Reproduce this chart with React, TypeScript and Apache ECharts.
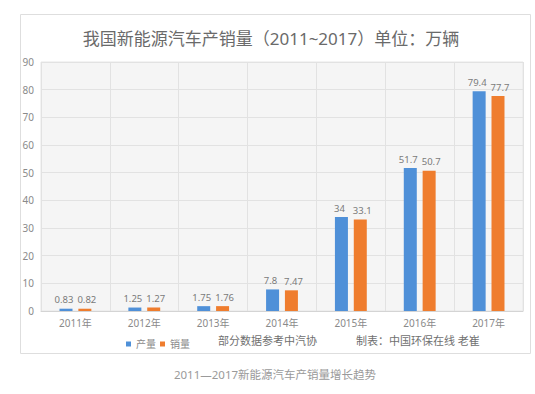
import React, { useEffect, useRef } from "react";
import * as echarts from "echarts";

const categories = ["2011年", "2012年", "2013年", "2014年", "2015年", "2016年", "2017年"];
const production = [0.83, 1.25, 1.75, 7.8, 34, 51.7, 79.4];
const sales = [0.82, 1.27, 1.76, 7.47, 33.1, 50.7, 77.7];
const seriesNames = ["产量", "销量"];
const titleText = "我国新能源汽车产销量（2011~2017）单位：万辆";
const sourceText = "部分数据参考中汽协";
const authorText = "制表：中国环保在线 老崔";
const captionText = "2011—2017新能源汽车产销量增长趋势";

const FONT = "'Noto Sans', 'Noto Sans CJK SC', sans-serif";

export default function App() {
  const ref = useRef<HTMLDivElement>(null);
  useEffect(() => {
    if (!ref.current) return;
    const chart = echarts.init(ref.current, undefined, { renderer: "svg" });
    const labelStyle = (dx: number) => ({
      show: true,
      position: "top" as const,
      distance: 4,
      offset: [dx, 0],
      color: "#7a7a7a",
      fontSize: 9.5,
      fontFamily: FONT,
    });
    chart.setOption({
      animation: false,
      backgroundColor: "#ffffff",
      textStyle: { fontFamily: FONT },
      grid: {
        left: 41,
        right: 12,
        top: 62,
        bottom: 83,
        show: true,
        backgroundColor: "#f5f5f5",
        borderColor: "#e6e6e6",
        borderWidth: 1,
      },
      legend: {
        data: seriesNames,
        left: 121,
        top: 334,
        icon: "rect",
        itemWidth: 5,
        itemHeight: 5,
        itemGap: 4,
        textStyle: { fontSize: 10, color: "#8a8a8a", fontFamily: FONT },
      },
      xAxis: {
        type: "category",
        data: categories,
        axisLine: { lineStyle: { color: "#d4d4d4" } },
        axisTick: { show: false },
        axisLabel: { color: "#8a8a8a", fontSize: 10, margin: 7, fontFamily: FONT },
        splitLine: { show: true, lineStyle: { color: "#e2e2e2" } },
      },
      yAxis: {
        type: "value",
        min: 0,
        max: 90,
        interval: 10,
        axisLine: { show: false },
        axisTick: { show: false },
        axisLabel: { color: "#8a8a8a", fontSize: 10, margin: 7, fontFamily: FONT },
        splitLine: { lineStyle: { color: "#e2e2e2" } },
      },
      series: [
        {
          name: seriesNames[0],
          type: "bar",
          data: production,
          barWidth: 13,
          barGap: "45%",
          itemStyle: { color: "#4f90d8" },
          label: labelStyle(-2),
        },
        {
          name: seriesNames[1],
          type: "bar",
          data: sales,
          barWidth: 13,
          itemStyle: { color: "#ef7d2e" },
          label: labelStyle(2),
        },
      ],
      graphic: [
        {
          type: "rect",
          shape: { x: 20.5, y: 14.5, width: 510, height: 339 },
          style: { fill: "none", stroke: "#dedede", lineWidth: 1 },
          silent: true,
        },
        {
          type: "text",
          x: 271,
          y: 38,
          style: {
            text: titleText,
            fill: "#6a6a6a",
            fontSize: 17,
            fontFamily: FONT,
            textAlign: "center",
            textVerticalAlign: "middle",
          },
        },
        {
          type: "text",
          x: 218,
          y: 340,
          style: {
            text: sourceText,
            fill: "#707070",
            fontSize: 11,
            fontFamily: FONT,
            textAlign: "left",
            textVerticalAlign: "middle",
          },
        },
        {
          type: "text",
          x: 356,
          y: 340,
          style: {
            text: authorText,
            fill: "#707070",
            fontSize: 11,
            fontFamily: FONT,
            textAlign: "left",
            textVerticalAlign: "middle",
          },
        },
        {
          type: "text",
          x: 275,
          y: 374,
          style: {
            text: captionText,
            fill: "#9a9a9a",
            fontSize: 11.5,
            fontFamily: FONT,
            textAlign: "center",
            textVerticalAlign: "middle",
          },
        },
      ],
    });
    return () => chart.dispose();
  }, []);
  return (
    <div
      ref={ref}
      style={{ position: "fixed", left: 0, top: 0, width: 535, height: 394, background: "#fff" }}
    />
  );
}
